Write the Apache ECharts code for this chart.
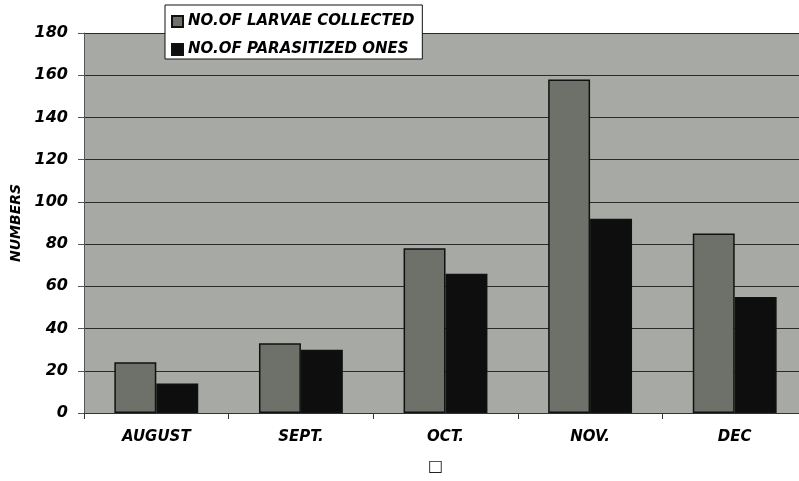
<!DOCTYPE html>
<html>
<head>
<meta charset="utf-8">
<script src="https://cdn.jsdelivr.net/npm/echarts@6/dist/echarts.min.js"></script>
<style>
  html, body { margin: 0; padding: 0; background: #fff; }
  #main { width: 799px; height: 481px; }
</style>
</head>
<body>
<div id="main"></div>
<script>
// months on the x axis
const months = ['AUGUST', 'SEPT.', 'OCT.', 'NOV.', 'DEC'];
// series values
const larvaeCollected = [24, 33, 78, 158, 85];
const parasitized = [14, 30, 66, 92, 55];
const seriesNames = ['NO.OF LARVAE COLLECTED', 'NO.OF PARASITIZED ONES'];

const font = 'DejaVu Sans, Verdana, sans-serif';

const chart = echarts.init(document.getElementById('main'));

const option = {
  backgroundColor: '#ffffff',
  animation: false,
  title: {
    text: '\u25A1',
    left: 423,
    top: 454,
    textStyle: { fontFamily: font, fontSize: 16, fontWeight: 'normal', fontStyle: 'italic', color: '#222' }
  },
  legend: {
    data: seriesNames,
    orient: 'vertical',
    left: 165,
    top: 5,
    padding: [9, 8, 2, 6],
    itemGap: 13,
    itemWidth: 11,
    itemHeight: 11,
    icon: 'rect',
    backgroundColor: '#ffffff',
    borderColor: '#111',
    borderWidth: 1,
    textStyle: { fontFamily: font, fontSize: 15, fontWeight: 'bold', fontStyle: 'italic', color: '#000' }
  },
  grid: {
    left: 84,
    top: 33,
    width: 723,
    height: 380,
    outerBoundsMode: 'none',
    containLabel: false,
    show: true,
    backgroundColor: '#a7a9a4',
    borderWidth: 0
  },
  xAxis: {
    type: 'category',
    data: months,
    axisLine: { lineStyle: { color: '#333', width: 1 } },
    axisTick: { show: true, length: 6, lineStyle: { color: '#333' } },
    axisLabel: {
      margin: 17,
      fontFamily: font, fontSize: 15, fontWeight: 'bold', fontStyle: 'italic', color: '#000'
    }
  },
  yAxis: {
    type: 'value',
    min: 0,
    max: 180,
    interval: 20,
    name: 'NUMBERS',
    nameLocation: 'middle',
    nameRotate: 90,
    nameGap: 59,
    nameTextStyle: { fontFamily: font, fontSize: 14, fontWeight: 'bold', fontStyle: 'italic', color: '#000' },
    axisLine: { show: true, lineStyle: { color: '#555', width: 1 } },
    axisTick: { show: true, length: 6, lineStyle: { color: '#555' } },
    axisLabel: {
      margin: 16,
      fontFamily: font, fontSize: 16, fontWeight: 'bold', fontStyle: 'italic', color: '#000'
    },
    splitLine: { lineStyle: { color: '#2a2a2a', width: 1.2 } }
  },
  series: [
    {
      name: seriesNames[0],
      type: 'bar',
      data: larvaeCollected,
      barGap: '0%',
      barCategoryGap: '42%',
      itemStyle: { color: '#6d7169', borderColor: '#111', borderWidth: 1.5 }
    },
    {
      name: seriesNames[1],
      type: 'bar',
      data: parasitized,
      itemStyle: { color: '#0e0e0e', borderColor: '#111', borderWidth: 1.5 }
    }
  ]
};

chart.setOption(option);
</script>
</body>
</html>
